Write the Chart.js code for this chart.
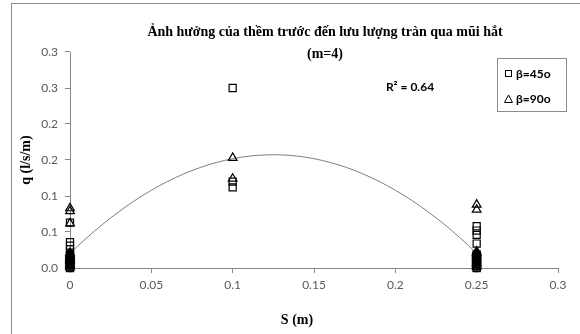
<!DOCTYPE html>
<html>
<head>
<meta charset="utf-8">
<script src="https://cdn.jsdelivr.net/npm/chart.js@4.4.1/dist/chart.umd.min.js"></script>
<style>
  html, body { margin: 0; padding: 0; background: #ffffff; }
  #wrap { width: 580px; height: 334px; position: relative; }
</style>
</head>
<body>
<div id="wrap"><canvas id="chart" width="580" height="334"></canvas></div>
<script>
// ---- chart text ----
const titleLines = ['Ảnh hưởng của thềm trước đến lưu lượng tràn qua mũi hắt', '(m=4)'];
const xAxisTitle = 'S (m)';
const yAxisTitle = 'q (l/s/m)';
const seriesNames = ['β=45o', 'β=90o'];
const r2Label = 'R² = 0.64';

// ---- tick labels (one-decimal format on 0.05 steps) ----
const xTickLabels = ['0', '0.05', '0.1', '0.15', '0.2', '0.25', '0.3'];
const yTickLabels = ['0.0', '0.1', '0.1', '0.2', '0.2', '0.3', '0.3'];

// ---- measurements: step length S (m) and unit discharge q (l/s/m) ----
const sBeta45 = [0, 0, 0, 0, 0, 0, 0, 0, 0, 0, 0, 0,
                 0, 0, 0, 0,
                 0.1, 0.1, 0.1,
                 0.25, 0.25, 0.25, 0.25, 0.25, 0.25, 0.25, 0.25, 0.25, 0.25, 0.25, 0.25,
                 0.25, 0.25, 0.25, 0.25];
const qBeta45 = [0.000, 0.002, 0.004, 0.005, 0.007, 0.009, 0.011, 0.013, 0.014, 0.016, 0.018, 0.020,
                 0.026, 0.031, 0.036, 0.063,
                 0.250, 0.120, 0.112,
                 0.000, 0.001, 0.003, 0.005, 0.006, 0.008, 0.010, 0.012, 0.014, 0.015, 0.017, 0.019,
                 0.034, 0.046, 0.052, 0.058];

const sBeta90 = [0, 0, 0, 0, 0, 0, 0, 0, 0, 0, 0, 0,
                 0, 0, 0,
                 0.1, 0.1,
                 0.25, 0.25, 0.25, 0.25, 0.25, 0.25, 0.25, 0.25, 0.25, 0.25, 0.25, 0.25,
                 0.25, 0.25, 0.25];
const qBeta90 = [0.001, 0.003, 0.004, 0.006, 0.008, 0.010, 0.012, 0.013, 0.015, 0.017, 0.019, 0.021,
                 0.062, 0.079, 0.083,
                 0.153, 0.124,
                 0.002, 0.004, 0.006, 0.007, 0.009, 0.011, 0.013, 0.015, 0.016, 0.018, 0.020, 0.021,
                 0.023, 0.081, 0.088];

// ---- second-order polynomial trendline fitted to all measurements ----
function fitQuadratic(xs, ys) {
  let n = xs.length, sx = 0, sx2 = 0, sx3 = 0, sx4 = 0, sy = 0, sxy = 0, sx2y = 0;
  for (let i = 0; i < n; i++) {
    const x = xs[i], y = ys[i], x2 = x * x;
    sx += x; sx2 += x2; sx3 += x2 * x; sx4 += x2 * x2;
    sy += y; sxy += x * y; sx2y += x2 * y;
  }
  // solve the normal equations by Gauss-Jordan elimination
  const M = [[n, sx, sx2, sy], [sx, sx2, sx3, sxy], [sx2, sx3, sx4, sx2y]];
  for (let col = 0; col < 3; col++) {
    let piv = col;
    for (let r = col + 1; r < 3; r++) if (Math.abs(M[r][col]) > Math.abs(M[piv][col])) piv = r;
    [M[col], M[piv]] = [M[piv], M[col]];
    for (let r = 0; r < 3; r++) {
      if (r === col) continue;
      const f = M[r][col] / M[col][col];
      for (let k = col; k < 4; k++) M[r][k] -= f * M[col][k];
    }
  }
  return [M[0][3] / M[0][0], M[1][3] / M[1][1], M[2][3] / M[2][2]];
}

const allS = sBeta45.concat(sBeta90);
const allQ = qBeta45.concat(qBeta90);
const [ca, cb, cc] = fitQuadratic(allS, allQ);
const sMin = Math.min(...allS), sMax = Math.max(...allS);
const trendPoints = [];
for (let k = 0; k <= 50; k++) {
  const s = sMin + (sMax - sMin) * k / 50;
  trendPoints.push({ x: s, y: ca + cb * s + cc * s * s });
}

const toPoints = (xs, ys) => xs.map((x, i) => ({ x: x, y: ys[i] }));

// ---- styling ----
const AXIS_GRAY = '#868686';
const TICK_TEXT = '#595959';
const SANS = "Lato, 'Open Sans', 'Liberation Sans', sans-serif";
const SERIF = "'Liberation Serif', 'DejaVu Serif', serif";

// frame, title, x-axis caption, R² note and legend box drawn on the canvas
const decorations = {
  id: 'decorations',
  beforeDraw(chart) {
    const ctx = chart.ctx;
    ctx.save();
    ctx.fillStyle = '#ffffff';
    ctx.fillRect(0, 0, chart.width, chart.height);
    ctx.strokeStyle = '#8c8c8c';
    ctx.lineWidth = 1;
    ctx.strokeRect(11.5, 3.5, chart.width + 10, chart.height + 10);
    ctx.restore();
  },
  afterDraw(chart) {
    const ctx = chart.ctx;
    ctx.save();
    ctx.fillStyle = '#000000';
    ctx.textAlign = 'center';
    ctx.textBaseline = 'middle';
    ctx.font = 'bold 14px ' + SERIF;
    ctx.fillText(titleLines[0], 325, 32);
    ctx.fillText(titleLines[1], 325, 54);

    ctx.font = 'bold 14px ' + SERIF;
    ctx.fillText(xAxisTitle, 297, 320);

    ctx.font = 'bold 12px ' + SANS;
    ctx.fillText(r2Label, 410, 87);

    // legend
    const bx = 497, by = 58, bw = 69, bh = 53;
    ctx.fillStyle = '#ffffff';
    ctx.fillRect(bx, by, bw, bh);
    ctx.strokeStyle = '#8c8c8c';
    ctx.lineWidth = 1;
    ctx.strokeRect(bx + 0.5, by + 0.5, bw, bh);

    ctx.strokeStyle = '#000000';
    ctx.lineWidth = 1;
    ctx.strokeRect(505.5, 70.5, 6, 6);
    ctx.beginPath();
    ctx.moveTo(508.5, 95);
    ctx.lineTo(512.5, 102.5);
    ctx.lineTo(504.5, 102.5);
    ctx.closePath();
    ctx.stroke();

    ctx.fillStyle = '#000000';
    ctx.textAlign = 'left';
    ctx.font = 'bold 12px ' + SANS;
    ctx.fillText(seriesNames[0], 516, 74);
    ctx.fillText(seriesNames[1], 516, 99);
    ctx.restore();
  }
};

new Chart(document.getElementById('chart'), {
  type: 'scatter',
  data: {
    datasets: [
      {
        label: 'trend',
        type: 'line',
        data: trendPoints,
        borderColor: '#7f7f7f',
        borderWidth: 1,
        pointRadius: 0,
        tension: 0,
        fill: false,
        order: 3
      },
      {
        label: seriesNames[0],
        data: toPoints(sBeta45, qBeta45),
        pointStyle: 'rect',
        pointRadius: 5,
        pointBorderWidth: 1.2,
        borderColor: '#000000',
        backgroundColor: 'rgba(0,0,0,0)',
        clip: false,
        order: 1
      },
      {
        label: seriesNames[1],
        data: toPoints(sBeta90, qBeta90),
        pointStyle: 'triangle',
        pointRadius: 5,
        pointBorderWidth: 1.2,
        borderColor: '#000000',
        backgroundColor: 'rgba(0,0,0,0)',
        clip: false,
        order: 2
      }
    ]
  },
  options: {
    responsive: false,
    animation: false,
    devicePixelRatio: 1,
    layout: { padding: { left: 0, right: 22, top: 52, bottom: 0 } },
    plugins: {
      legend: { display: false },
      title: { display: false },
      tooltip: { enabled: false }
    },
    scales: {
      x: {
        type: 'linear',
        min: 0,
        max: 0.3,
        afterFit(scale) { scale.height = 66; },
        afterBuildTicks(scale) {
          scale.ticks = xTickLabels.map((_, i) => ({ value: i * 0.05 }));
        },
        ticks: {
          callback: (v, i) => xTickLabels[i],
          color: TICK_TEXT,
          font: { family: SANS, size: 12 },
          padding: 5,
          maxRotation: 0
        },
        grid: { drawOnChartArea: false, drawTicks: true, tickLength: 5, color: AXIS_GRAY },
        border: { color: AXIS_GRAY, width: 1 },
        title: { display: false }
      },
      y: {
        type: 'linear',
        min: 0,
        max: 0.3,
        afterFit(scale) { scale.width = 70; },
        afterBuildTicks(scale) {
          scale.ticks = yTickLabels.map((_, i) => ({ value: i * 0.05 }));
        },
        ticks: {
          callback: (v, i) => yTickLabels[i],
          color: TICK_TEXT,
          font: { family: SANS, size: 12 },
          padding: 7
        },
        grid: { drawOnChartArea: false, drawTicks: true, tickLength: 5, color: AXIS_GRAY },
        border: { color: AXIS_GRAY, width: 1 },
        title: {
          display: true,
          text: yAxisTitle,
          color: '#000000',
          font: { family: SERIF, size: 14, weight: 'bold' },
          padding: { top: 18, bottom: 0 }
        }
      }
    }
  },
  plugins: [decorations]
});
</script>
</body>
</html>
